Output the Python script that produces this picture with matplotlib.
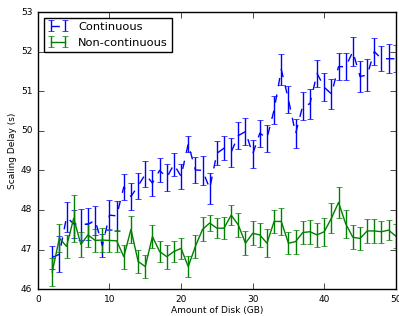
import numpy as np
import matplotlib
matplotlib.use('Agg')
from matplotlib import pyplot as plt

disk = list(range(2, 51))

cont = [46.80, 46.88, 47.82, 47.65, 47.63, 47.64, 47.74, 47.10, 47.87, 47.85,
        48.58, 48.34, 48.61, 48.90, 48.68, 49.00, 48.82, 49.15, 48.85, 49.67,
        49.01, 49.00, 48.54, 49.43, 49.56, 49.46, 49.88, 49.98, 49.41, 49.94,
        49.81, 50.53, 51.55, 50.79, 49.93, 50.63, 50.68, 51.45, 51.10, 50.93,
        51.62, 51.62, 52.00, 51.37, 51.41, 52.00, 51.82, 51.82, 51.82]
cont_err = [0.30, 0.45, 0.38, 0.35, 0.39, 0.40, 0.37, 0.30, 0.38, 0.37,
            0.32, 0.33, 0.33, 0.33, 0.32, 0.30, 0.34, 0.28, 0.32, 0.20,
            0.34, 0.37, 0.39, 0.30, 0.31, 0.37, 0.34, 0.34, 0.36, 0.34,
            0.34, 0.35, 0.40, 0.33, 0.37, 0.36, 0.37, 0.34, 0.36, 0.38,
            0.35, 0.34, 0.37, 0.38, 0.40, 0.35, 0.32, 0.36, 0.34]

noncont = [46.43, 47.29, 47.08, 47.79, 47.13, 47.37, 47.23, 47.24, 47.23, 47.22,
           46.82, 47.51, 46.70, 46.57, 47.33, 46.95, 46.82, 46.95, 47.03, 46.57,
           47.08, 47.51, 47.67, 47.54, 47.54, 47.87, 47.62, 47.16, 47.41, 47.37,
           47.16, 47.71, 47.71, 47.16, 47.20, 47.43, 47.45, 47.37, 47.45, 47.79,
           48.19, 47.65, 47.31, 47.28, 47.47, 47.47, 47.45, 47.49, 47.34]
noncont_err = [0.35, 0.36, 0.30, 0.59, 0.31, 0.31, 0.30, 0.30, 0.30, 0.28,
               0.30, 0.35, 0.30, 0.30, 0.30, 0.27, 0.30, 0.27, 0.27, 0.27,
               0.30, 0.30, 0.20, 0.25, 0.27, 0.25, 0.30, 0.30, 0.30, 0.30,
               0.35, 0.30, 0.35, 0.28, 0.30, 0.30, 0.30, 0.30, 0.35, 0.38,
               0.40, 0.35, 0.30, 0.30, 0.30, 0.30, 0.28, 0.26, 0.30]

plt.style.use('classic')
plt.rcParams['figure.facecolor'] = 'white'
plt.rcParams['savefig.facecolor'] = 'white'

fig = plt.figure(figsize=(3.99, 3.16), dpi=100)
ax = fig.add_axes([0.095, 0.085, 0.897, 0.877])

ax.errorbar(disk, cont, yerr=cont_err, color='b', linestyle='--', lw=1,
            capsize=2.2, label='Continuous')
ax.errorbar(disk, noncont, yerr=noncont_err, color='g', linestyle='-', lw=1,
            capsize=2.2, label='Non-continuous')

ax.set_xlim(0, 50)
ax.set_ylim(46, 53)
ax.set_xticks([0, 10, 20, 30, 40, 50])
ax.set_yticks(range(46, 54))
ax.tick_params(labelsize=6.5, length=4)
ax.set_xlabel('Amount of Disk (GB)', fontsize=6.5, labelpad=2)
ax.set_ylabel('Scaling Delay (s)', fontsize=6.5, labelpad=3)
ax.legend(loc='upper left', fontsize=8.2, numpoints=2, borderaxespad=0.5,
          handlelength=1.8, handletextpad=0.9, labelspacing=0.53, borderpad=0.35)

fig.savefig('out.png', dpi=100)
